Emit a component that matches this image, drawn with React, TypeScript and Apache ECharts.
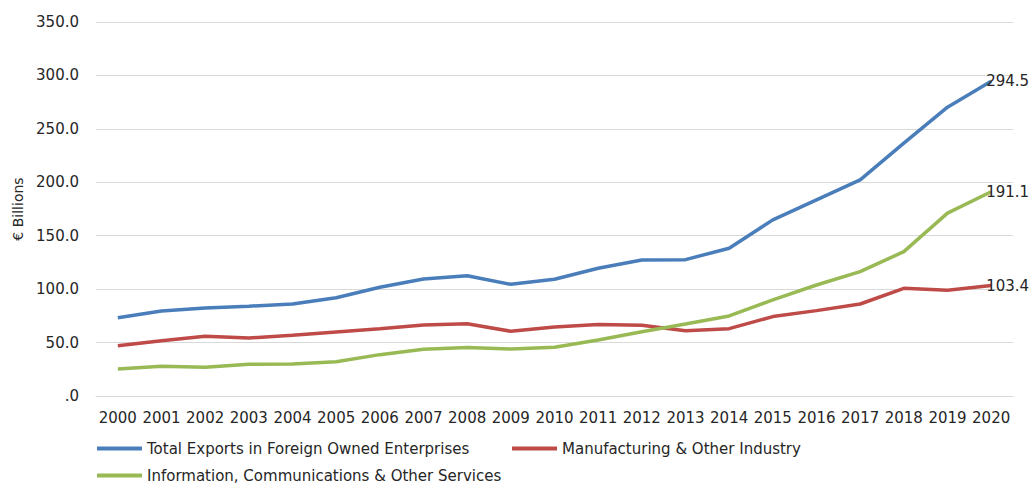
import React, { useEffect, useRef } from "react";
import * as echarts from "echarts";

const years = ["2000","2001","2002","2003","2004","2005","2006","2007","2008","2009","2010","2011","2012","2013","2014","2015","2016","2017","2018","2019","2020"];
const totalExports = [73.3, 79.6, 82.4, 84.0, 86.1, 92.0, 101.8, 109.5, 112.6, 104.5, 109.2, 119.5, 127.3, 127.6, 138.3, 164.8, 183.5, 202.2, 236.6, 270.3, 294.5];
const manufacturing = [47.1, 51.8, 55.9, 54.3, 56.8, 59.9, 63.0, 66.5, 67.7, 60.6, 64.6, 66.8, 66.2, 61.1, 63.0, 74.3, 79.9, 86.1, 100.8, 99.0, 103.4];
const ictServices = [25.3, 27.8, 26.9, 29.7, 30.0, 32.1, 38.7, 43.7, 45.3, 44.0, 45.6, 52.4, 60.2, 67.4, 74.9, 89.9, 103.9, 116.4, 135.1, 171.1, 191.1];
const seriesNames = [
  "Total Exports in Foreign Owned Enterprises",
  "Manufacturing & Other Industry",
  "Information, Communications & Other Services",
];
const colors = ["#4A7EBB", "#BE4B48", "#98B954"];
const yAxisTitle = "€ Billions";

const FONT = "DejaVu Sans";

const endLabel = {
  show: true,
  distance: 0,
  offset: [-5, 0],
  formatter: (p: any) => {
    const v = Array.isArray(p.value) ? p.value[p.value.length - 1] : p.value;
    return Number(v).toFixed(1);
  },
  fontFamily: FONT,
  fontSize: 15,
  color: "#262626",
};

export default function App() {
  const ref = useRef<HTMLDivElement>(null);
  useEffect(() => {
    if (!ref.current) return;
    const chart = echarts.init(ref.current, null, { renderer: "svg" });
    const legendBase = {
      orient: "horizontal",
      icon: "rect",
      itemWidth: 45,
      itemHeight: 4,
      textStyle: { fontFamily: FONT, fontSize: 15, color: "#262626" },
      padding: 0,
    };
    chart.setOption({
      animation: false,
      backgroundColor: "#ffffff",
      color: colors,
      grid: { left: 96, right: 20, top: 22, bottom: 88, containLabel: false },
      legend: [
        { ...legendBase, left: 97, top: 441, data: [seriesNames[0]] },
        { ...legendBase, left: 512, top: 441, data: [seriesNames[1]] },
        { ...legendBase, left: 97, top: 468, data: [seriesNames[2]] },
      ],
      xAxis: {
        type: "category",
        data: years,
        boundaryGap: true,
        axisTick: { show: false },
        axisLine: { show: true, lineStyle: { color: "#D9D9D9", width: 1 } },
        axisLabel: { fontFamily: FONT, fontSize: 15, color: "#262626", margin: 14, interval: 0 },
      },
      yAxis: {
        type: "value",
        min: 0,
        max: 350,
        interval: 50,
        name: yAxisTitle,
        nameLocation: "middle",
        nameGap: 71,
        nameTextStyle: { fontFamily: FONT, fontSize: 14, color: "#262626" },
        axisLine: { show: false },
        axisTick: { show: false },
        splitLine: { lineStyle: { color: "#D9D9D9", width: 1 } },
        axisLabel: {
          fontFamily: FONT,
          fontSize: 15,
          color: "#262626",
          margin: 17,
          formatter: (v: number) => (v === 0 ? ".0" : v.toFixed(1)),
        },
      },
      series: [
        { name: seriesNames[0], type: "line", data: totalExports, symbol: "none", endLabel, lineStyle: { width: 3.5, color: colors[0] }, itemStyle: { color: colors[0] } },
        { name: seriesNames[1], type: "line", data: manufacturing, symbol: "none", endLabel, lineStyle: { width: 3.5, color: colors[1] }, itemStyle: { color: colors[1] } },
        { name: seriesNames[2], type: "line", data: ictServices, symbol: "none", endLabel, lineStyle: { width: 3.5, color: colors[2] }, itemStyle: { color: colors[2] } },
      ],
    });
    return () => chart.dispose();
  }, []);
  return (
    <div
      ref={ref}
      style={{ position: "absolute", left: 0, top: 0, width: 1033, height: 484 }}
    />
  );
}
